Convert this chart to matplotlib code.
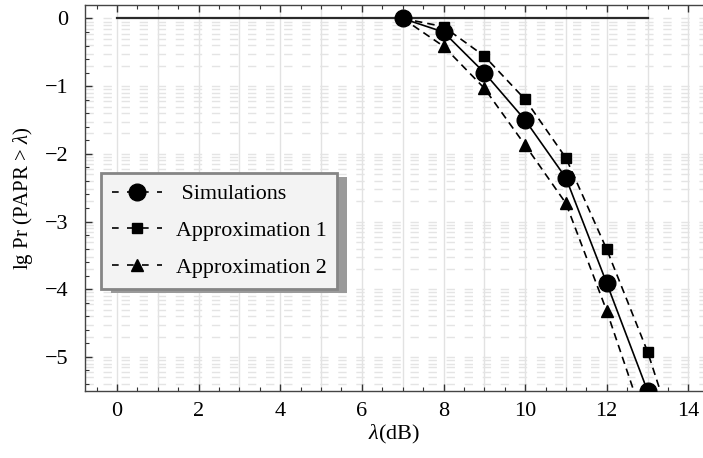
import matplotlib
matplotlib.use('Agg')
import matplotlib.pyplot as plt
from matplotlib.lines import Line2D
from matplotlib.patches import Rectangle
import numpy as np

# data
lam = [7, 8, 9, 10, 11, 12, 13]
sim = [0.0, -0.20, -0.80, -1.50, -2.355, -3.91, -5.50]
approx1 = [0.0, -0.12, -0.555, -1.195, -2.06, -3.41, -4.92]
approx2 = [0.0, -0.41, -1.03, -1.87, -2.73, -4.32, -6.10]
# dashed curve for approximation 1 continues below the axis
approx1_tail_x = [13, 13.5]
approx1_tail_y = [-4.92, -5.85]
# flat line at lg Pr = 0
flat_x = [0, 13]
flat_y = [0, 0]

plt.rcParams['font.family'] = ['Liberation Serif', 'DejaVu Serif']
plt.rcParams['mathtext.fontset'] = 'custom'
plt.rcParams['mathtext.rm'] = 'Liberation Serif'
plt.rcParams['mathtext.it'] = 'Liberation Serif:italic'

fig = plt.figure(figsize=(7.03, 4.58), dpi=100)
ax = fig.add_axes([0.121, 0.146, 0.879, 0.842])
ax.set_xlim(-0.785, 14.36)
ax.set_ylim(-5.505, 0.192)

# grid: solid verticals at integers, dashed horizontals at log positions
for xv in range(0, 15):
    ax.axvline(xv, color='#e2e2e2', lw=1.0, zorder=0)
for k in range(-6, 1):
    for m in range(1, 10):
        yv = k + np.log10(m)
        if -5.505 < yv < 0.192:
            ax.axhline(yv, color='#e4e4e4', lw=1.0, dashes=(6, 7), zorder=0)

dash = (4.5, 3)
ax.plot(flat_x, flat_y, color='#2a2a2a', lw=1.6, zorder=2)
ax.plot(lam, sim, color='black', lw=1.2, marker='o', markersize=12, zorder=4)
ax.plot(lam + approx1_tail_x[1:], approx1 + approx1_tail_y[1:], color='black',
        lw=1.2, dashes=dash, zorder=3)
ax.plot(lam, approx1, ls='none', color='black', marker='s', markersize=7.5, zorder=4)
ax.plot(lam, approx2, color='black', lw=1.2, dashes=dash, marker='^',
        markersize=8, zorder=3)

ax.set_xticks(range(0, 15, 2))
ax.set_xticks(np.arange(-0.5, 14.5, 0.5), minor=True)
ax.set_yticks(range(-5, 1))
ax.set_yticklabels(['\u22125', '\u22124', '\u22123', '\u22122', '\u22121', '0'])
ax.set_yticks(np.arange(-5.4, 0.2, 0.2), minor=True)
ax.tick_params(which='both', direction='in', top=True, right=False,
               colors='#333333', labelcolor='black', labelsize=16)
ax.tick_params(which='major', length=5, width=1)
ax.tick_params(which='minor', length=3, width=0.8)
ax.tick_params(axis='x', pad=8)
ax.tick_params(axis='y', pad=12)
for s in ['left', 'bottom', 'top']:
    ax.spines[s].set_color('#444444')
    ax.spines[s].set_linewidth(1.0)
ax.spines['right'].set_visible(False)

ax.set_xlabel(r'$\it{\lambda}$(dB)', fontsize=16, labelpad=1)
ax.set_ylabel(r'lg Pr (PAPR > $\it{\lambda}$)', fontsize=15, labelpad=7)

handles = [
    Line2D([], [], color='black', lw=1.2, dashes=(4, 5), marker='o', markersize=12),
    Line2D([], [], color='black', lw=1.2, dashes=(4, 5), marker='s', markersize=7.5),
    Line2D([], [], color='black', lw=1.2, dashes=(4, 5), marker='^', markersize=8),
]
labels = [' Simulations', 'Approximation 1', 'Approximation 2']
leg = ax.legend(handles, labels, loc='upper left',
                bbox_to_anchor=(101 / 703, 1 - 173 / 458),
                bbox_transform=fig.transFigure, fontsize=15.8,
                frameon=True, fancybox=False, shadow=False, borderaxespad=0,
                handlelength=2.3, handletextpad=0.6, labelspacing=0.75,
                borderpad=0.5)
frame = leg.get_frame()
frame.set_facecolor('#f3f3f3')
frame.set_edgecolor('#858585')
frame.set_linewidth(2)
frame.set_alpha(1)
leg.set_zorder(6)

# drop shadow behind the legend box
fig.canvas.draw()
bb = leg.get_window_extent().transformed(ax.transAxes.inverted())
off_x = 10 / (0.879 * 703)
off_y = 4 / (0.842 * 458)
ax.add_patch(Rectangle((bb.x0 + off_x, bb.y0 - off_y), bb.width, bb.height,
                       transform=ax.transAxes, facecolor='#9a9a9a',
                       edgecolor='none', clip_on=False, zorder=5.5))

fig.savefig('out.png', dpi=100)
